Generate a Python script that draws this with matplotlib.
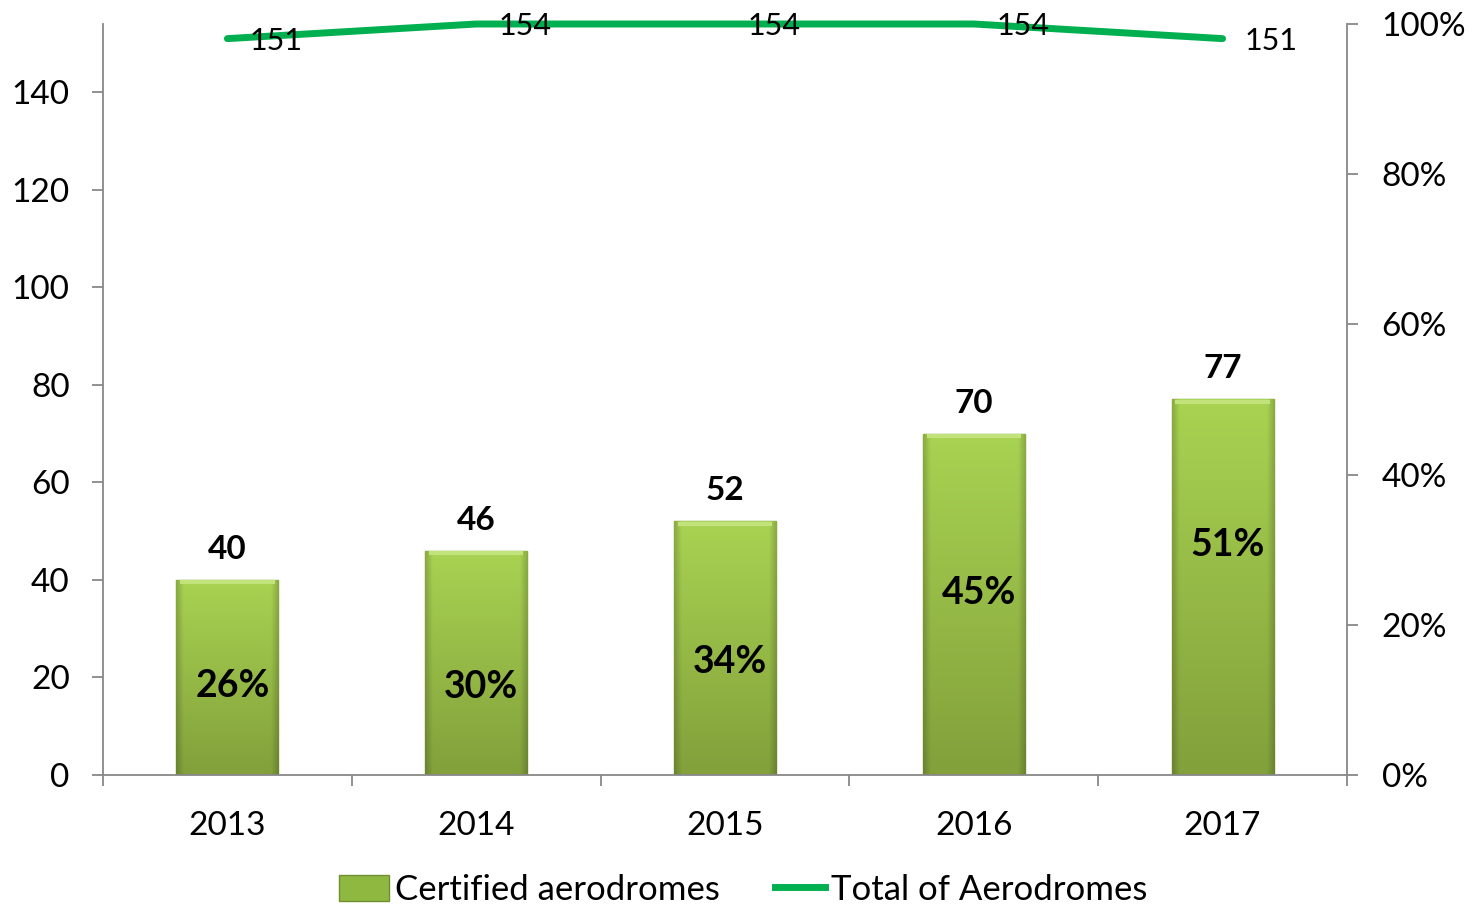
import matplotlib
matplotlib.use("Agg")
import matplotlib.pyplot as plt
import numpy as np
from matplotlib.colors import to_rgb
from matplotlib.patches import Patch
from matplotlib.lines import Line2D

years = ["2013", "2014", "2015", "2016", "2017"]
certified = [40, 46, 52, 70, 77]
total = [151, 154, 154, 154, 151]
share_labels = ["26%", "30%", "34%", "45%", "51%"]
share_label_y = [18.2, 18.0, 23.1, 37.3, 47.1]

plt.rcParams['font.family'] = ['Lato', 'DejaVu Sans']

fig = plt.figure(figsize=(14.75, 9.10), dpi=100)
ax = fig.add_axes([103/1475, 1-775/910, (1347-103)/1475, (775-24)/910])
x = np.arange(len(years))

bars = ax.bar(x, certified, width=0.41, color='#98c545', edgecolor='#7a9636', linewidth=1.0, zorder=2)

top_c = np.array(to_rgb('#a9d352'))
bot_c = np.array(to_rgb('#82a03b'))
ny, nx = 200, 60
t = np.linspace(0, 1, ny).reshape(-1, 1, 1)  # 0 bottom, 1 top
img = bot_c + (top_c - bot_c) * t
img = np.repeat(img, nx, axis=1)
u = np.linspace(0, 1, nx)
edge = np.clip(np.minimum(u, 1 - u) / 0.07, 0, 1)
shade = 0.82 + 0.18 * edge
img = img * shade.reshape(1, -1, 1)
img = np.clip(img, 0, 1)

for b in bars:
    x0, y0 = b.get_x(), b.get_y()
    w, h = b.get_width(), b.get_height()
    im = ax.imshow(img, extent=[x0, x0 + w, y0, y0 + h], origin='lower',
                   aspect='auto', zorder=2.5, interpolation='bilinear')
    im.set_clip_path(b)
    ax.plot([x0 + 0.015, x0 + w - 0.015], [y0 + h - 0.5, y0 + h - 0.5], color='#c2e27c', lw=3,
            zorder=2.6, solid_capstyle='butt')

for xi, v in zip(x, certified):
    ax.text(xi, v + 3.3, str(v), ha='center', va='bottom', fontsize=24, fontweight='bold', zorder=5)
for xi, lab, yy in zip(x, share_labels, share_label_y):
    ax.text(xi + 0.02, yy, lab, ha='center', va='center', fontsize=27, fontweight='bold', zorder=5)

ax.plot(x, total, color='#00b050', lw=5, solid_capstyle='round', zorder=4, clip_on=False)
for xi, v in zip(x, total):
    ax.text(xi + 0.09, v - 0.4, str(v), ha='left', va='center', fontsize=22, zorder=5)

ax.set_xlim(-0.5, 4.5)
ax.set_ylim(0, 154)
ax.set_yticks(np.arange(0, 141, 20))
ax.set_xticks(np.arange(-0.5, 4.6, 1))
ax.set_xticklabels([])
ax.set_xticks(x, minor=True)
ax.set_xticklabels(years, minor=True)
ax.tick_params(axis='x', which='minor', length=0, labelsize=24, pad=26)
ax.tick_params(axis='x', which='major', length=8, color='#888888', width=1.3, direction='out')
ax.tick_params(axis='y', length=8, color='#888888', width=1.3, labelsize=24, pad=16)
for s in ['top', 'right']:
    ax.spines[s].set_visible(False)
for s in ['left', 'bottom']:
    ax.spines[s].set_color('#888888')
    ax.spines[s].set_linewidth(1.3)

ax2 = ax.twinx()
ax2.set_ylim(0, 1)
ax2.set_yticks(np.arange(0, 1.01, 0.2))
ax2.set_yticklabels([f"{int(round(t*100))}%" for t in np.arange(0, 1.01, 0.2)])
ax2.tick_params(axis='y', length=8, color='#888888', width=1.3, labelsize=24, pad=17)
for s in ['top', 'left', 'bottom']:
    ax2.spines[s].set_visible(False)
ax2.spines['right'].set_color('#888888')
ax2.spines['right'].set_linewidth(1.3)

handles = [Patch(facecolor='#8fb840', edgecolor='#6f8f30'),
           Line2D([0], [0], color='#00b050', lw=5)]
fig.legend(handles, ['Certified aerodromes', 'Total of Aerodromes'], loc='center',
           bbox_to_anchor=(743/1475, 1-890/910), ncol=2, frameon=False, fontsize=25,
           handlelength=1.45, handleheight=0.8, handletextpad=0.15, columnspacing=1.6)

fig.savefig('out.png', dpi=100)
